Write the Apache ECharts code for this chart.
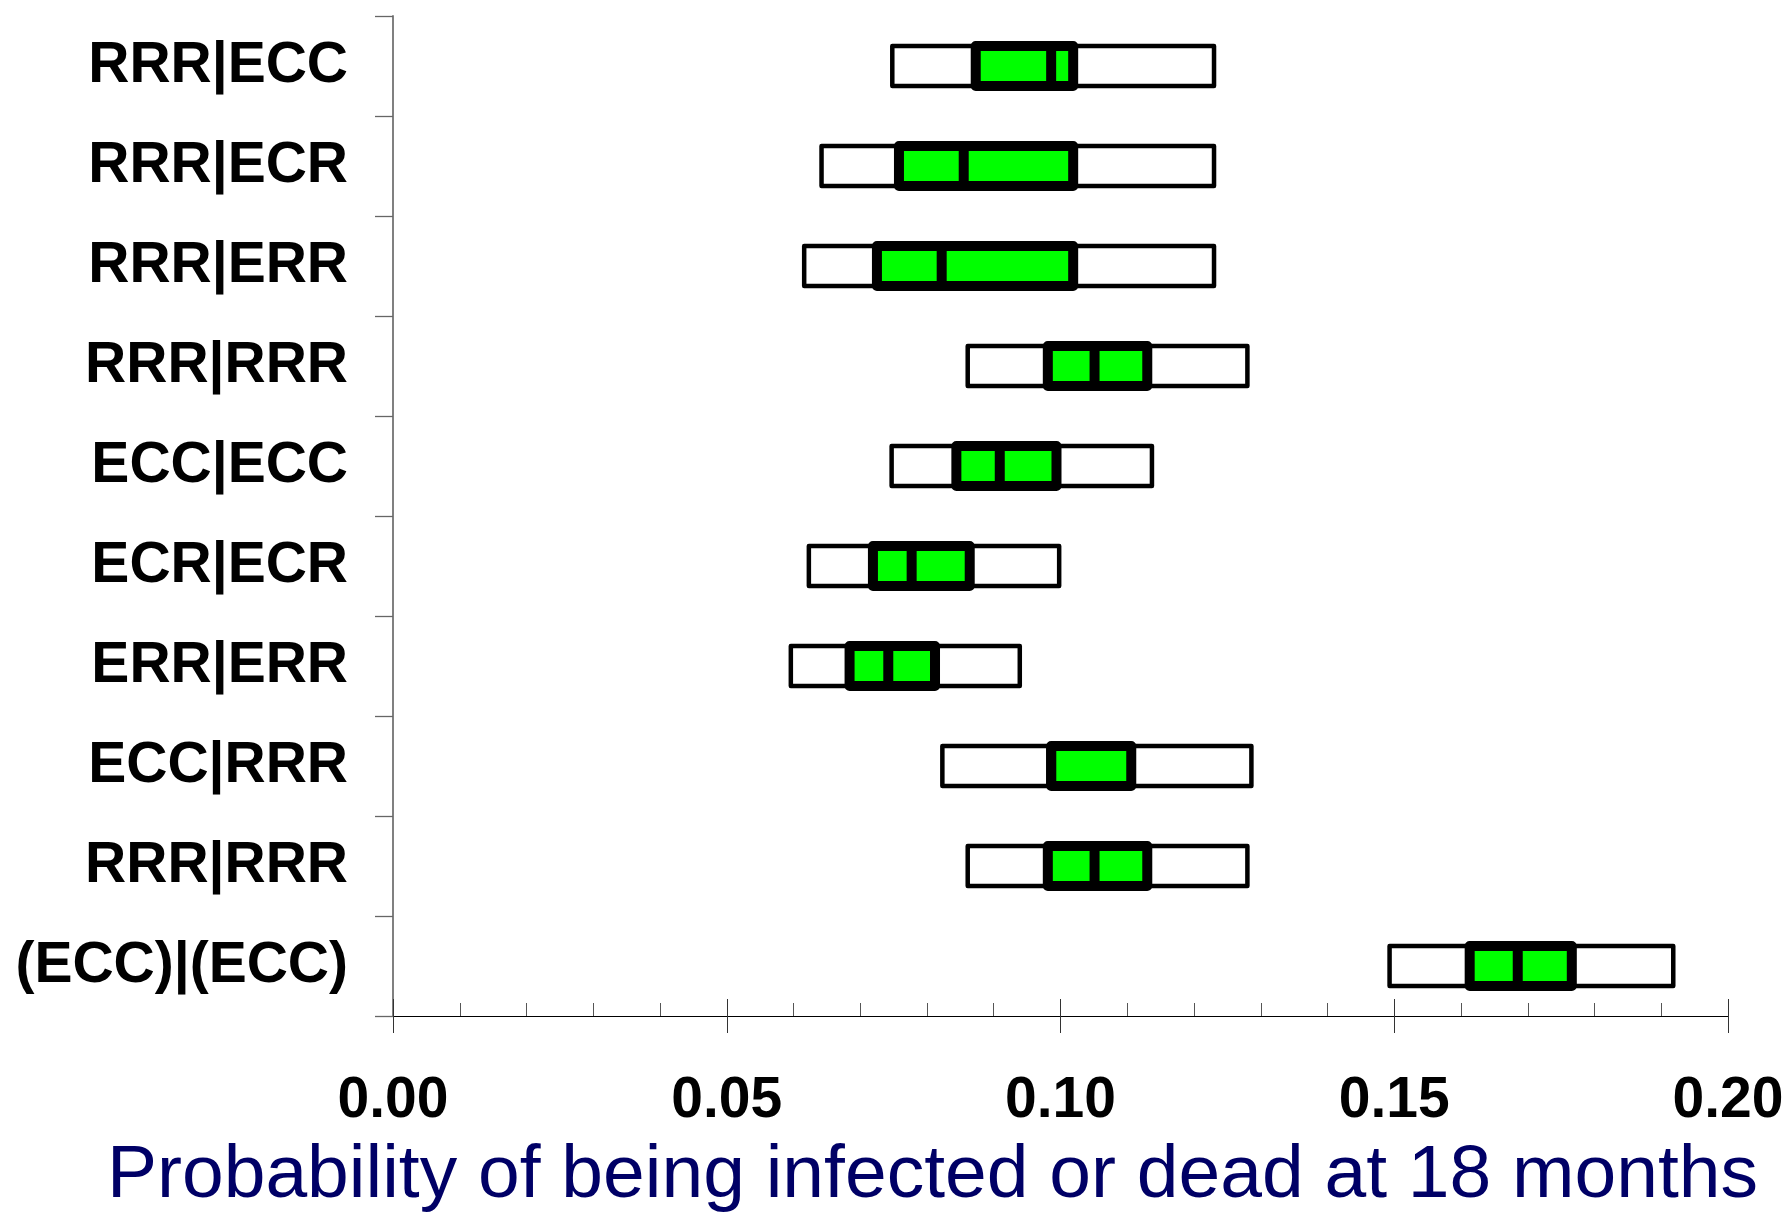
<!DOCTYPE html>
<html>
<head>
<meta charset="utf-8">
<script src="https://cdn.jsdelivr.net/npm/echarts@6/dist/echarts.min.js"></script>
<style>
  html, body { margin: 0; padding: 0; background: #fff; }
  #boxChart { width: 1788px; height: 1212px; }
</style>
</head>
<body>
<div id="boxChart"></div>
<script>
// one row per strategy, top to bottom
var categories = ['RRR|ECC', 'RRR|ECR', 'RRR|ERR', 'RRR|RRR', 'ECC|ECC',
  'ECR|ECR', 'ERR|ERR', 'ECC|RRR', 'RRR|RRR', '(ECC)|(ECC)'];
var lowValues    = [0.0748, 0.0642, 0.0616, 0.0861, 0.0747, 0.0623, 0.0596, 0.0823, 0.0861, 0.1493];
var q1Values     = [0.0873, 0.0758, 0.0725, 0.0981, 0.0844, 0.0719, 0.0684, 0.0986, 0.0981, 0.1613];
var medianValues = [0.0986, 0.0855, 0.0822, 0.1051, 0.0909, 0.0777, 0.0742, 0.0986, 0.1051, 0.1685];
var q3Values     = [0.1019, 0.1019, 0.1019, 0.1130, 0.0994, 0.0864, 0.0812, 0.1106, 0.1130, 0.1766];
var highValues   = [0.1230, 0.1230, 0.1230, 0.1280, 0.1137, 0.0998, 0.0939, 0.1286, 0.1280, 0.1918];
var xTicks = [0, 0.05, 0.10, 0.15, 0.20];

var font = '"Liberation Sans", Arial, Helvetica, sans-serif';

var boxData = categories.map(function (c, i) {
  return [i, lowValues[i], q1Values[i], medianValues[i], q3Values[i], highValues[i]];
});

function renderItem(params, api) {
  var row = api.value(0);
  var lo = api.coord([api.value(1), row]);
  var q1 = api.coord([api.value(2), row]);
  var med = api.coord([api.value(3), row]);
  var q3 = api.coord([api.value(4), row]);
  var hi = api.coord([api.value(5), row]);
  var h = 40;
  var y = lo[1];
  return {
    type: 'group',
    children: [
      {
        type: 'rect',
        shape: { x: lo[0], y: y - h / 2, width: hi[0] - lo[0], height: h },
        style: { fill: '#ffffff', stroke: '#000', lineWidth: 4.5, lineJoin: 'round' }
      },
      {
        type: 'rect',
        shape: { x: q1[0], y: y - h / 2, width: q3[0] - q1[0], height: h },
        style: { fill: '#00ff00', stroke: '#000', lineWidth: 10, lineJoin: 'round' }
      },
      {
        type: 'line',
        shape: { x1: med[0], y1: y - h / 2, x2: med[0], y2: y + h / 2 },
        style: { stroke: '#000', lineWidth: 10 }
      }
    ]
  };
}

var chart = echarts.init(document.getElementById('boxChart'));

var option = {
  animation: false,
  backgroundColor: '#fff',
  grid: { left: 393, right: 60, top: 16, bottom: 196, containLabel: false, outerBoundsMode: 'none' },
  xAxis: [
    {
      type: 'value',
      min: xTicks[0],
      max: xTicks[xTicks.length - 1],
      interval: 0.05,
      axisLine: { show: true, lineStyle: { color: '#000', width: 1.2 } },
      axisTick: { show: true, inside: true, length: 17, lineStyle: { color: '#333', width: 1 } },
      minorTick: { show: true, splitNumber: 5, length: 13, lineStyle: { color: '#555', width: 1 } },
      splitLine: { show: false },
      axisLabel: {
        margin: 57,
        fontSize: 57,
        fontWeight: 'bold',
        color: '#000',
        fontFamily: font,
        formatter: function (v) { return v.toFixed(2); }
      },
      name: 'Probability of being infected or dead at 18 months',
      nameLocation: 'middle',
      nameGap: 123,
      nameTextStyle: {
        fontSize: 75,
        color: '#000066',
        fontFamily: font,
        padding: [0, 256, 0, 0]
      }
    },
    {
      type: 'value',
      min: xTicks[0],
      max: xTicks[xTicks.length - 1],
      interval: 0.05,
      position: 'bottom',
      axisLine: { show: false },
      axisTick: { show: true, inside: false, length: 17, lineStyle: { color: '#333', width: 1 } },
      axisLabel: { show: false },
      splitLine: { show: false }
    }
  ],
  yAxis: {
    type: 'category',
    inverse: true,
    data: categories,
    axisLine: { show: true, lineStyle: { color: '#808080', width: 2 } },
    axisTick: { show: true, length: 18, lineStyle: { color: '#666', width: 1.3 } },
    splitLine: { show: false },
    axisLabel: {
      margin: 45,
      fontSize: 57,
      fontWeight: 'bold',
      color: '#000',
      fontFamily: font,
      padding: [5, 0, 0, 0]
    }
  },
  series: [
    {
      type: 'custom',
      name: 'Probability',
      xAxisIndex: 0,
      clip: false,
      renderItem: renderItem,
      encode: { x: [1, 2, 3, 4, 5], y: 0 },
      data: boxData
    }
  ]
};

chart.setOption(option);
</script>
</body>
</html>
